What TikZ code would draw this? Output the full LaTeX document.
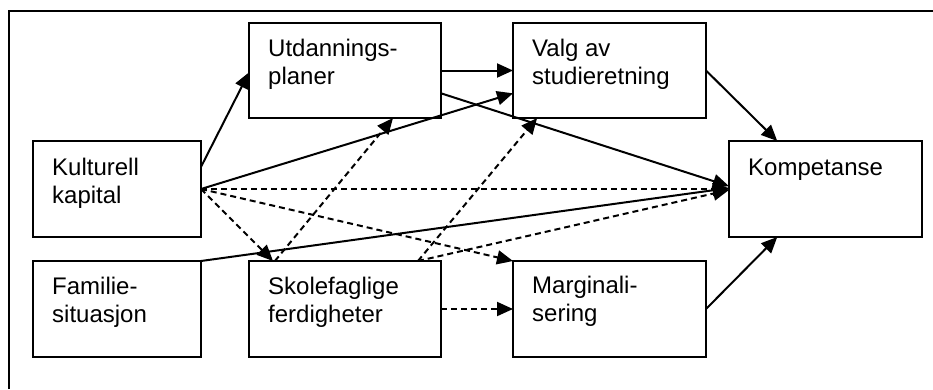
\documentclass[tikz,border=0pt]{standalone}
\usepackage{fontspec}
\setmainfont{Liberation Sans}
\usetikzlibrary{arrows.meta,calc}
\begin{document}
\begin{tikzpicture}[x=1pt,y=-1pt,
  box/.style={draw, line width=2pt, inner sep=0pt, outer sep=0pt, anchor=north west},
  lbl/.style={anchor=north west, inner sep=0pt, align=left,
    font=\fontsize{24}{28}\selectfont, execute at begin node={\rule{0pt}{18pt}}},
  arr/.style={line width=2pt, -{Triangle[length=16pt,width=14pt]}},
  darr/.style={arr, dash pattern=on 6pt off 4pt}]
\useasboundingbox (0,0) rectangle (933,389);
\draw[line width=2pt] (9,389) -- (9,11) -- (933,11);
% boxes
\node[box, minimum width=192pt, minimum height=95pt] (utd) at (249,23) {};
\node[box, minimum width=193pt, minimum height=95pt] (valg) at (513,23) {};
\node[box, minimum width=168pt, minimum height=96pt] (kul) at (33,141) {};
\node[box, minimum width=193pt, minimum height=96pt] (komp) at (729,141) {};
\node[box, minimum width=168pt, minimum height=96pt] (fam) at (33,261) {};
\node[box, minimum width=192pt, minimum height=96pt] (skole) at (249,261) {};
\node[box, minimum width=193pt, minimum height=96pt] (marg) at (513,261) {};
% labels
\node[lbl] (tutd) at ($(utd.north west)+(19,16)$) {Utdannings-\\planer};
\node[lbl] (tvalg) at ($(valg.north west)+(19,16)$) {Valg av\\studieretning};
\node[lbl] (tkul) at ($(kul.north west)+(19,17)$) {Kulturell\\kapital};
\node[lbl] (tkomp) at ($(komp.north west)+(19,16)$) {Kompetanse};
\node[lbl] (tfam) at ($(fam.north west)+(19,16)$) {Familie-\\situasjon};
\node[lbl] (tskole) at ($(skole.north west)+(19,16)$) {Skolefaglige\\ferdigheter};
\node[lbl] (tmarg) at ($(marg.north west)+(19,15)$) {Marginali-\\sering};
% solid connectors
\draw[arr] ($(kul.north east)!0.27!(kul.south east)$) -- ($(utd.north west)!0.52!(utd.south west)$);
\draw[arr] (utd.east) -- (valg.west);
\draw[arr] ($(utd.north east)!0.74!(utd.south east)$) -- ($(komp.north west)!0.47!(komp.south west)$);
\draw[arr] (kul.east) -- ($(valg.north west)!0.74!(valg.south west)$);
\draw[arr] (fam.north east) -- ($(komp.north west)!0.49!(komp.south west)$);
\draw[arr] (valg.east) -- ($(komp.north west)!0.25!(komp.north east)$);
\draw[arr] (marg.east) -- ($(komp.south west)!0.25!(komp.south east)$);
% dashed connectors
\draw[darr] (kul.east) -- (komp.west);
\draw[darr] (kul.east) -- ($(skole.north west)!0.125!(skole.north east)$);
\draw[darr] (kul.east) -- (marg.north west);
\draw[darr] ($(skole.north west)!0.135!(skole.north east)$) -- ($(utd.south west)!0.75!(utd.south east)$);
\draw[darr] ($(skole.north west)!0.88!(skole.north east)$) -- ($(valg.south west)!0.125!(valg.south east)$);
\draw[darr] ($(skole.north west)!0.88!(skole.north east)$) -- ($(komp.north west)!0.51!(komp.south west)$);
\draw[darr] (skole.east) -- (marg.west);
\end{tikzpicture}
\end{document}
